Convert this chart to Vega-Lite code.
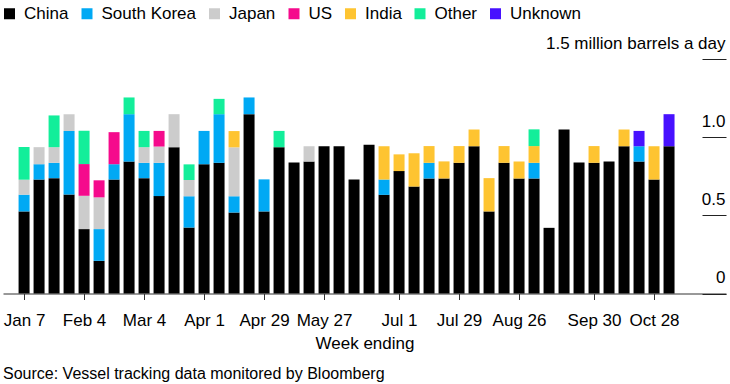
{
  "$schema": "https://vega.github.io/schema/vega-lite/v6.json",
  "width": 723,
  "height": 234.5,
  "autosize": {"type": "none"},
  "padding": {"left": 3, "top": 59, "right": 4, "bottom": 90.5},
  "background": "white",
  "config": {
    "font": "Liberation Sans",
    "view": {"stroke": null},
    "axis": {"labelFont": "Liberation Sans", "titleFont": "Liberation Sans", "labelColor": "#000", "titleColor": "#000"},
    "legend": {"labelFont": "Liberation Sans"}
  },
  "title": {
    "text": "Source: Vessel tracking data monitored by Bloomberg",
    "orient": "bottom",
    "anchor": "start",
    "frame": "group",
    "fontSize": 16,
    "fontWeight": "normal",
    "color": "#000",
    "offset": 14
  },
  "data": {
    "values": [
      {"week": "2018-01-07", "country": "China", "value": 0.525},
      {"week": "2018-01-07", "country": "South Korea", "value": 0.107},
      {"week": "2018-01-07", "country": "Japan", "value": 0.096},
      {"week": "2018-01-07", "country": "Other", "value": 0.209},
      {"week": "2018-01-14", "country": "China", "value": 0.729},
      {"week": "2018-01-14", "country": "South Korea", "value": 0.098},
      {"week": "2018-01-14", "country": "Japan", "value": 0.109},
      {"week": "2018-01-21", "country": "China", "value": 0.738},
      {"week": "2018-01-21", "country": "South Korea", "value": 0.098},
      {"week": "2018-01-21", "country": "Japan", "value": 0.1},
      {"week": "2018-01-21", "country": "Other", "value": 0.203},
      {"week": "2018-01-28", "country": "China", "value": 0.633},
      {"week": "2018-01-28", "country": "South Korea", "value": 0.407},
      {"week": "2018-01-28", "country": "Japan", "value": 0.107},
      {"week": "2018-02-04", "country": "China", "value": 0.412},
      {"week": "2018-02-04", "country": "Japan", "value": 0.213},
      {"week": "2018-02-04", "country": "US", "value": 0.203},
      {"week": "2018-02-04", "country": "Other", "value": 0.213},
      {"week": "2018-02-11", "country": "China", "value": 0.209},
      {"week": "2018-02-11", "country": "South Korea", "value": 0.203},
      {"week": "2018-02-11", "country": "Japan", "value": 0.203},
      {"week": "2018-02-11", "country": "US", "value": 0.109},
      {"week": "2018-02-18", "country": "China", "value": 0.729},
      {"week": "2018-02-18", "country": "South Korea", "value": 0.098},
      {"week": "2018-02-18", "country": "US", "value": 0.205},
      {"week": "2018-02-25", "country": "China", "value": 0.844},
      {"week": "2018-02-25", "country": "South Korea", "value": 0.303},
      {"week": "2018-02-25", "country": "Other", "value": 0.107},
      {"week": "2018-03-04", "country": "China", "value": 0.738},
      {"week": "2018-03-04", "country": "South Korea", "value": 0.098},
      {"week": "2018-03-04", "country": "Japan", "value": 0.1},
      {"week": "2018-03-04", "country": "Other", "value": 0.104},
      {"week": "2018-03-11", "country": "China", "value": 0.623},
      {"week": "2018-03-11", "country": "South Korea", "value": 0.213},
      {"week": "2018-03-11", "country": "Japan", "value": 0.104},
      {"week": "2018-03-11", "country": "US", "value": 0.1},
      {"week": "2018-03-18", "country": "China", "value": 0.936},
      {"week": "2018-03-18", "country": "Japan", "value": 0.211},
      {"week": "2018-03-25", "country": "China", "value": 0.422},
      {"week": "2018-03-25", "country": "South Korea", "value": 0.2},
      {"week": "2018-03-25", "country": "Japan", "value": 0.104},
      {"week": "2018-03-25", "country": "Other", "value": 0.1},
      {"week": "2018-04-01", "country": "China", "value": 0.827},
      {"week": "2018-04-01", "country": "South Korea", "value": 0.213},
      {"week": "2018-04-08", "country": "China", "value": 0.836},
      {"week": "2018-04-08", "country": "South Korea", "value": 0.311},
      {"week": "2018-04-08", "country": "Other", "value": 0.098},
      {"week": "2018-04-15", "country": "China", "value": 0.518},
      {"week": "2018-04-15", "country": "South Korea", "value": 0.104},
      {"week": "2018-04-15", "country": "Japan", "value": 0.313},
      {"week": "2018-04-15", "country": "India", "value": 0.104},
      {"week": "2018-04-22", "country": "China", "value": 1.147},
      {"week": "2018-04-22", "country": "South Korea", "value": 0.107},
      {"week": "2018-04-29", "country": "China", "value": 0.525},
      {"week": "2018-04-29", "country": "South Korea", "value": 0.205},
      {"week": "2018-05-06", "country": "China", "value": 0.936},
      {"week": "2018-05-06", "country": "Other", "value": 0.104},
      {"week": "2018-05-13", "country": "China", "value": 0.838},
      {"week": "2018-05-20", "country": "China", "value": 0.844},
      {"week": "2018-05-20", "country": "Japan", "value": 0.098},
      {"week": "2018-05-27", "country": "China", "value": 0.942},
      {"week": "2018-06-03", "country": "China", "value": 0.942},
      {"week": "2018-06-10", "country": "China", "value": 0.729},
      {"week": "2018-06-17", "country": "China", "value": 0.951},
      {"week": "2018-06-24", "country": "China", "value": 0.631},
      {"week": "2018-06-24", "country": "South Korea", "value": 0.098},
      {"week": "2018-06-24", "country": "India", "value": 0.213},
      {"week": "2018-07-01", "country": "China", "value": 0.783},
      {"week": "2018-07-01", "country": "India", "value": 0.107},
      {"week": "2018-07-08", "country": "China", "value": 0.684},
      {"week": "2018-07-08", "country": "India", "value": 0.213},
      {"week": "2018-07-15", "country": "China", "value": 0.736},
      {"week": "2018-07-15", "country": "South Korea", "value": 0.1},
      {"week": "2018-07-15", "country": "India", "value": 0.107},
      {"week": "2018-07-22", "country": "China", "value": 0.736},
      {"week": "2018-07-22", "country": "India", "value": 0.109},
      {"week": "2018-07-29", "country": "China", "value": 0.836},
      {"week": "2018-07-29", "country": "India", "value": 0.107},
      {"week": "2018-08-05", "country": "China", "value": 0.942},
      {"week": "2018-08-05", "country": "India", "value": 0.107},
      {"week": "2018-08-12", "country": "China", "value": 0.525},
      {"week": "2018-08-12", "country": "India", "value": 0.213},
      {"week": "2018-08-19", "country": "China", "value": 0.836},
      {"week": "2018-08-19", "country": "India", "value": 0.107},
      {"week": "2018-08-26", "country": "China", "value": 0.736},
      {"week": "2018-08-26", "country": "India", "value": 0.109},
      {"week": "2018-09-02", "country": "China", "value": 0.736},
      {"week": "2018-09-02", "country": "South Korea", "value": 0.1},
      {"week": "2018-09-02", "country": "India", "value": 0.107},
      {"week": "2018-09-02", "country": "Other", "value": 0.107},
      {"week": "2018-09-09", "country": "China", "value": 0.42},
      {"week": "2018-09-16", "country": "China", "value": 1.049},
      {"week": "2018-09-23", "country": "China", "value": 0.838},
      {"week": "2018-09-30", "country": "China", "value": 0.836},
      {"week": "2018-09-30", "country": "India", "value": 0.107},
      {"week": "2018-10-07", "country": "China", "value": 0.844},
      {"week": "2018-10-14", "country": "China", "value": 0.942},
      {"week": "2018-10-14", "country": "India", "value": 0.107},
      {"week": "2018-10-21", "country": "China", "value": 0.844},
      {"week": "2018-10-21", "country": "South Korea", "value": 0.098},
      {"week": "2018-10-21", "country": "Unknown", "value": 0.098},
      {"week": "2018-10-28", "country": "China", "value": 0.729},
      {"week": "2018-10-28", "country": "India", "value": 0.213},
      {"week": "2018-11-04", "country": "China", "value": 0.942},
      {"week": "2018-11-04", "country": "Unknown", "value": 0.205}
    ]
  },
  "transform": [
    {"calculate": "indexof(['China','South Korea','Japan','US','India','Other','Unknown'], datum.country)", "as": "stackOrder"}
  ],
  "mark": {"type": "bar", "width": 11},
  "encoding": {
    "x": {
      "field": "week",
      "type": "temporal",
      "scale": {
        "type": "utc",
        "nice": false,
        "padding": 0,
        "domain": [
          {"year": 2017, "month": 12, "date": 28, "hours": 4, "utc": true},
          {"year": 2018, "month": 11, "date": 30, "hours": 14, "utc": true}
        ]
      },
      "axis": {
        "values": [
          {"year": 2018, "month": 1, "date": 7, "utc": true},
          {"year": 2018, "month": 2, "date": 4, "utc": true},
          {"year": 2018, "month": 3, "date": 4, "utc": true},
          {"year": 2018, "month": 4, "date": 1, "utc": true},
          {"year": 2018, "month": 4, "date": 29, "utc": true},
          {"year": 2018, "month": 5, "date": 27, "utc": true},
          {"year": 2018, "month": 7, "date": 1, "utc": true},
          {"year": 2018, "month": 7, "date": 29, "utc": true},
          {"year": 2018, "month": 8, "date": 26, "utc": true},
          {"year": 2018, "month": 9, "date": 30, "utc": true},
          {"year": 2018, "month": 10, "date": 28, "utc": true}
        ],
        "labelExpr": "utcFormat(datum.value, '%b %-d')",
        "title": "Week ending",
        "titleFontSize": 17,
        "titleFontWeight": "normal",
        "titlePadding": 7,
        "labelFontSize": 17,
        "labelPadding": 13,
        "labelFlush": false,
        "labelOverlap": false,
        "tickSize": 6,
        "tickColor": "#333",
        "domainColor": "#333",
        "grid": false
      }
    },
    "y": {
      "field": "value",
      "type": "quantitative",
      "stack": "zero",
      "scale": {"domain": [0, 1.5], "nice": false, "padding": 0},
      "axis": {
        "orient": "right",
        "values": [0, 0.5, 1, 1.5],
        "labelExpr": "datum.value == 1.5 ? '1.5 million barrels a day' : datum.value == 0 ? '0' : format(datum.value, '.1f')",
        "title": null,
        "domain": false,
        "grid": false,
        "tickSize": -24,
        "tickColor": "#222",
        "labelAlign": "right",
        "labelBaseline": "alphabetic",
        "labelOffset": -11,
        "labelPadding": 23,
        "labelFontSize": 17
      }
    },
    "order": {"field": "stackOrder", "type": "quantitative", "sort": "ascending"},
    "color": {
      "field": "country",
      "type": "nominal",
      "sort": ["China", "South Korea", "Japan", "US", "India", "Other", "Unknown"],
      "scale": {
        "domain": ["China", "South Korea", "Japan", "US", "India", "Other", "Unknown"],
        "range": ["#000000", "#00a9f4", "#cccccc", "#f50a8c", "#fec431", "#13ee9a", "#4711ff"]
      },
      "legend": {
        "orient": "none",
        "legendX": -2,
        "legendY": -54,
        "direction": "horizontal",
        "title": null,
        "symbolType": "square",
        "symbolSize": 121,
        "symbolStrokeWidth": 0,
        "labelFontSize": 17,
        "labelColor": "#000",
        "labelOffset": 6,
        "columnPadding": 9.5
      }
    }
  }
}
